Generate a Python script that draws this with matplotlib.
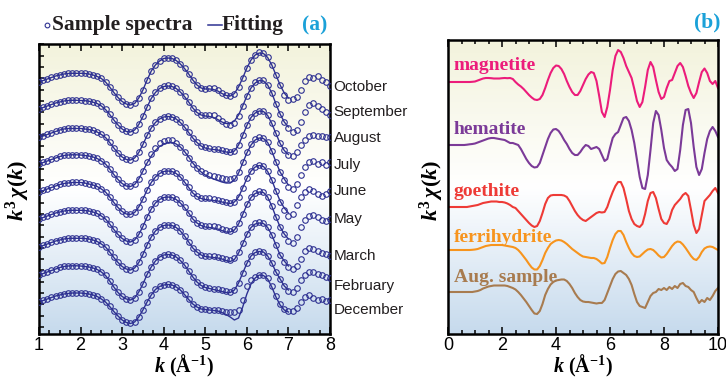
import numpy as np
import matplotlib
matplotlib.use("Agg")
import matplotlib.pyplot as plt
from matplotlib.colors import LinearSegmentedColormap
from matplotlib.ticker import MultipleLocator
from matplotlib.lines import Line2D

plt.rcParams['font.family'] = ['Liberation Sans', 'DejaVu Sans']
plt.rcParams['mathtext.fontset'] = 'custom'
plt.rcParams['mathtext.rm'] = 'Liberation Serif:bold'
plt.rcParams['mathtext.it'] = 'Liberation Serif:italic:bold'
plt.rcParams['mathtext.bf'] = 'Liberation Serif:bold'

# ---------------- panel (a) data: k = 1.0 ... 8.0, step 0.1 ----------------
k_a = np.round(np.arange(1.0, 8.05, 0.1), 1)
k_fit = k_a[:61]          # fits shown from 1.0 to 7.0

months = ["October", "September", "August", "July", "June",
          "May", "March", "February", "December"]

oct_data = [0, 1.5, 3, 4.5, 6, 7, 8, 8.5, 8.7, 8.7,
            8.7, 8.5, 8, 7, 5.5, 3.5, 0, -5, -10.5, -15.5,
            -19.5, -22, -23, -21.5, -16, -8, 2, 11, 17, 21,
            23.5, 24, 23.5, 21.5, 18, 13.5, 8, 2, -3, -6,
            -7, -6.5, -6.5, -8, -11, -13.5, -14.5, -12, -5, 4,
            14, 22, 27, 29.5, 29, 25, 17, 7, -3, -13,
            -18, -17, -15, -8, 1, 5, 4, 6, 2, 0, -4]
oct_fit = [0, 1.5, 3, 4.5, 6, 7, 8, 8.5, 8.7, 8.7,
           8.7, 8.5, 8, 7, 5.5, 3.5, 0, -5, -10.5, -15.5,
           -19.5, -22, -23, -21.5, -16, -8, 2, 11, 17, 21,
           23.5, 24, 23.5, 21.5, 18, 13.5, 8, 2, -3, -6,
           -7, -7, -7.5, -9, -11.5, -13.5, -14, -11.5, -5, 4,
           14, 22, 27, 29, 28.5, 24.5, 17, 7, -3, -11,
           -16]

sep_data = [0, 1.5, 3, 4.5, 6, 7, 8, 8.5, 8.7, 8.7,
            8.5, 8.3, 7.8, 6.8, 5.5, 3, -0.5, -5.5, -11, -16,
            -20, -22.5, -23, -21, -15.5, -7.5, 2, 10.5, 16.5, 20.5,
            23, 23.5, 23, 21, 17, 12.5, 7, 1, -3.5, -6,
            -6.5, -6, -6.5, -9, -12.5, -15, -16, -14, -7, 3,
            13, 21, 26.5, 29, 28.5, 24, 16, 5, -5, -13,
            -19, -23, -21, -13, -3, 4, 6, 3, 0, -3, -6]
sep_fit = [0, 1.5, 3, 4.5, 6, 7, 8, 8.5, 8.7, 8.7,
           8.5, 8.3, 7.8, 6.8, 5.5, 3, -0.5, -5.5, -11, -16,
           -20, -22.5, -23, -21, -15.5, -7.5, 2, 10.5, 16.5, 20.5,
           22.5, 23, 22.5, 20.5, 17, 12.5, 7, 1, -3.5, -6,
           -7, -7.5, -8.5, -10.5, -13, -14.5, -14.5, -12, -6, 3,
           13, 21, 26, 28.5, 28, 24, 16, 5, -5, -13,
           -18]

aug_data = [0, 1.5, 3, 4.5, 6, 7.5, 8.5, 9, 9, 9,
            9, 8.5, 8, 7, 5.5, 3, 0, -5, -10.5, -15.5,
            -19.5, -22, -22.5, -20.5, -15, -7, 2, 9.5, 15, 18.5,
            20.5, 21, 20.5, 18.5, 15, 10.5, 5, -0.5, -5, -8.5,
            -10, -11, -11.5, -12, -13, -14, -15, -14, -8, 2,
            12, 20, 24.5, 26.5, 26, 22, 14, 4, -6, -13,
            -18, -19, -15, -8, -3, 1, 2, 1, 1, 0, 0]
aug_fit = [0, 1.5, 3, 4.5, 6, 7.5, 8.5, 9, 9, 9,
           9, 8.5, 8, 7, 5.5, 3, 0, -5, -10.5, -15.5,
           -19.5, -22, -22.5, -20.5, -15, -7, 2, 9.5, 15, 18.5,
           20.5, 21, 20.5, 18.5, 15, 10.5, 5, -0.5, -5, -8.5,
           -10.5, -11.5, -12, -12.5, -13.5, -14.5, -15, -13.5, -7.5, 2,
           12, 20, 24.5, 26.5, 26, 22, 14, 4, -6, -13,
           -17]

jul_data = [0, 1.5, 3, 4.5, 6, 7.5, 8.5, 9, 9.2, 9.2,
            9, 8.5, 8, 7, 5.5, 3, 0, -5, -10.5, -15.5,
            -19.5, -22, -22.5, -20.5, -15, -7, 2, 10, 16, 20.5,
            23, 24, 23.5, 21, 17, 12, 6, 0, -4.5, -7.5,
            -9.5, -11, -12, -13, -14, -15, -15.5, -14, -8, 2,
            12, 20, 25, 27, 26, 22, 13, 2, -8, -16,
            -23, -25, -20, -11, -3, 2, 3, 0, 2, -1, 2]
jul_fit = [0, 1.5, 3, 4.5, 6, 7.5, 8.5, 9, 9.2, 9.2,
           9, 8.5, 8, 7, 5.5, 3, 0, -5, -10.5, -15.5,
           -19.5, -22, -22.5, -20.5, -15, -7, 1, 8, 13.5, 17.5,
           20, 21.5, 21.5, 20, 17, 12.5, 7, 1, -4, -8,
           -11, -13, -15, -16.5, -18, -19, -19, -16, -9, 1,
           11, 19, 24, 26, 25.5, 21.5, 13, 2, -8, -15,
           -21]

jun_data = [0, 1.5, 3, 4.5, 6, 7.5, 8.5, 9, 9.5, 9.5,
            9.5, 9, 8, 7, 5.5, 3, 0, -5, -10.5, -15.5,
            -19.5, -22, -22.5, -20.5, -15, -7, 2, 9.5, 15, 18.5,
            20.5, 21, 20.5, 18.5, 15, 10, 4.5, -1, -4.5, -6,
            -6.5, -6.5, -7.5, -8, -9, -10, -11, -10, -5, 4,
            13.5, 21, 25, 26.5, 26, 21, 12, 1, -10, -18,
            -24, -22, -13, -5, 0, 3, 1, -2, -4, -2, 1]
jun_fit = [0, 1.5, 3, 4.5, 6, 7.5, 8.5, 9, 9.5, 9.5,
           9.5, 9, 8, 7, 5.5, 3, 0, -5, -10.5, -15.5,
           -19.5, -22, -22.5, -20.5, -15, -7, 2, 9.5, 15, 18.5,
           20.5, 21, 20.5, 18.5, 15, 10, 4.5, -1, -4.5, -6.5,
           -7.5, -8, -8.5, -9, -10, -11, -11.5, -10, -5, 4,
           13.5, 21, 25, 26.5, 25.5, 20.5, 12, 1, -9, -16,
           -21]

may_data = [0, 1.5, 3, 4.5, 6, 7, 8, 8.5, 8.7, 8.7,
            8.7, 8.5, 8, 7, 5.5, 3, 0, -5, -10.5, -15.5,
            -19.5, -22, -23, -21, -15.5, -7.5, 2, 10, 16, 19.5,
            21.5, 22, 21.5, 19.5, 16, 11.5, 6, 0, -4, -6,
            -7, -7.5, -7, -8, -10, -11.5, -12, -10.5, -4.5, 5,
            14.5, 22, 26, 27.5, 27, 22, 13, 2, -8, -15,
            -22, -24, -18, -8, -1, 3, 4, 2, -1, -2, 0]
may_fit = [0, 1.5, 3, 4.5, 6, 7, 8, 8.5, 8.7, 8.7,
           8.7, 8.5, 8, 7, 5.5, 3, 0, -5, -10.5, -15.5,
           -19.5, -22, -23, -21, -15.5, -7.5, 2, 10, 16, 19.5,
           21.5, 22, 21.5, 19.5, 16, 11.5, 6, 0, -4, -6.5,
           -8, -8.5, -9, -10, -11.5, -13, -13, -11, -5, 4.5,
           14, 21.5, 25.5, 27, 26.5, 22, 13, 2, -8, -15,
           -20]

mar_data = [0, 1.5, 3, 4.5, 6, 7, 8, 8.5, 8.7, 8.7,
            8.7, 8.5, 8, 7, 5.5, 3, 0, -5, -10.5, -15.5,
            -19.5, -22, -23, -21, -15.5, -7.5, 2, 10, 16, 19.5,
            21.5, 22, 21.5, 19.5, 16, 11, 5, -1, -5, -8,
            -9, -9, -9.5, -10.5, -11.5, -12.5, -13, -11, -5, 4,
            13, 20, 23.5, 24.5, 24, 20, 12, 2, -8, -15,
            -20, -22, -19, -12, -4, -1, -2, -4, -6, -7, -9]
mar_fit = [0, 1.5, 3, 4.5, 6, 7, 8, 8.5, 8.7, 8.7,
           8.7, 8.5, 8, 7, 5.5, 3, 0, -5, -10.5, -15.5,
           -19.5, -22, -23, -21, -15.5, -7.5, 2, 10, 16, 19.5,
           21.5, 22, 21.5, 19.5, 16, 11, 5, -1, -5, -8,
           -9.5, -10, -10.5, -11, -12, -13.5, -14.5, -12.5, -6, 3,
           12.5, 19.5, 23, 24, 23.5, 19.5, 12, 2, -8, -14,
           -19]

feb_data = [0, 1.5, 3, 4.5, 6, 7.5, 8.5, 9, 9.2, 9.2,
            9, 8.5, 8, 7, 5.5, 3, -0.5, -6, -12, -17.5,
            -21.5, -24, -25, -23, -17, -9, 0.5, 8, 14, 18,
            20, 20.5, 20, 18, 14.5, 10, 4, -2, -7, -10.5,
            -12.5, -13.5, -14, -14.5, -15.5, -16.5, -17, -15, -8, 2,
            11.5, 19, 22.5, 23.5, 23, 19, 12, 3, -4, -11,
            -16, -17, -13, -5, 0, 3, 3, 1, 0, -2, -3]
feb_fit = [0, 1.5, 3, 4.5, 6, 7.5, 8.5, 9, 9.2, 9.2,
           9, 8.5, 8, 7, 5.5, 3, -0.5, -6, -12, -17.5,
           -21.5, -24, -25, -23, -17, -9, 0.5, 8, 14, 18,
           20, 20.5, 20, 18, 14.5, 10, 4, -2, -7, -10.5,
           -12.5, -13.5, -14.5, -15.5, -16.5, -17.5, -17.5, -15, -8, 2,
           11.5, 19, 22.5, 23.5, 23, 19, 12, 3, -4, -11,
           -15]

dec_data = [0, 1.5, 3, 4.5, 6, 7, 8, 8.5, 9, 9,
            9, 8.5, 8, 7, 5.5, 3, 0, -4.5, -9.5, -14,
            -18, -20.5, -21.5, -20, -15, -8, 0, 7, 12.5, 15.5,
            17, 17.5, 17, 15, 12, 7.5, 2.5, -2, -5, -7,
            -7.5, -8, -8, -8, -9, -10, -10, -10, -8, 2,
            16, 22, 25, 27, 27, 24, 16, 6, -2, -7,
            -9, -9, -6, 0, 5, 7, 4, 2, 3, 1, 2]
dec_fit = [0, 1.5, 3, 4.5, 6, 7, 8, 8.5, 9, 9,
           9, 8.5, 8, 7, 5.5, 3, 0, -4.5, -9.5, -14,
           -18, -20.5, -21.5, -20, -15, -8, 0, 7, 12.5, 15.5,
           17, 17.5, 17, 15, 12, 7.5, 2.5, -2, -5, -7,
           -7.5, -8, -8.5, -9, -10.5, -12.5, -15, -18, -16, -5,
           8, 18, 24, 27, 26.5, 23, 15, 5, -3, -8,
           -10]

sample_sets = [oct_data, sep_data, aug_data, jul_data, jun_data,
               may_data, mar_data, feb_data, dec_data]
fit_sets = [oct_fit, sep_fit, aug_fit, jul_fit, jun_fit,
            may_fit, mar_fit, feb_fit, dec_fit]
# vertical stacking offsets and label heights
offsets_a = [82, 109, 137.5, 164, 192, 219, 247, 275, 302]
label_y_a = [87, 112, 138, 165, 191, 219, 256, 286, 310]

# ---------------- panel (b) data: k = 0 ... 10, step 0.1 ----------------
k_b = np.round(np.arange(0.0, 10.05, 0.1), 1)
refs = ["magnetite", "hematite", "goethite", "ferrihydrite", "Aug. sample"]
ref_colors = ["#ec1c7b", "#7b3a98", "#ee3a36", "#f7941d", "#a87b4f"]

magnetite = [0, 0, 0, 0, 0, 0, 0, 0, 0, 0.2,
             0.5, 1.5, 2.5, 3.5, 4, 4, 3.8, 3.5, 3.5, 3.5,
             3.8, 4, 3.8, 4, 3, 0, -2.5, -4.5, -7, -10,
             -13, -15.5, -17.5, -18, -17, -13, -6, 2, 9, 14,
             16.5, 16, 13, 8, 1, -5, -10, -13, -13, -9,
             -3, 3, 7.5, 10, 9, 1, -14, -30, -35, -25,
             -8, 12, 26, 32, 30, 24, 16, 10, 4, -7,
             -19, -25, -20, -5, 12, 20, 15, 2, -10, -17,
             -15, -6, 1, 2, 9, 16, 19, 15, 6, -4,
             -11, -16, -11, 0, 10, 13.5, 9, 1, -2, 1,
             -6]
hematite = [0, 0, 0, 0, 0, 0, 0, 0.3, 0.7, 1,
            1.5, 2.5, 3.5, 4.5, 5.5, 6.5, 7, 7, 6.5, 6,
            5.5, 5, 3.5, 2, 2, 1, 0, -4, -9, -14,
            -18, -21, -22.5, -22, -18, -10, -2, 6, 12, 15.5,
            16, 14, 10, 5, 1, -4, -8, -10, -10, -7,
            -3, 0, -1, -4, -3, -2, -4, -10, -16, -14,
            -3, 7, 11, 13, 20, 27, 28, 24, 15, 2,
            -15, -32, -43, -44, -30, -5, 22, 34, 30, 15,
            -3, -15, -19, -22, -26, -24, -5, 20, 35, 36,
            22, -2, -22, -30, -24, -8, 6, 14, 18, 14,
            8]
goethite = [0, 0, 0, 0, 0, 0, 0, 0, 0.5, 1,
            1.5, 2, 3, 4, 4.5, 5, 5.5, 5.5, 5.5, 5,
            5, 4.5, 3.5, 2, 0, -1, -4, -7, -10, -13,
            -16, -18.5, -20, -19, -14, -6, 3, 9, 11.5, 12,
            12, 12, 12, 11.5, 10, 6, 1, -4, -8, -11,
            -13, -14, -12, -10, -8, -6, -5, -5.5, -5, 0,
            8, 15, 21, 25, 25, 19, 8, -4, -12, -17,
            -19, -20, -17, -7, 6, 14, 15, 9, -2, -12,
            -16, -17, -12, -3, 2, 5, 8, 12, 14, 11,
            -3, -18, -26, -22, -8, 6, 9, 12, 16, 19,
            14]
ferrihydrite = [0, 0, 0, 0, 0, 0, 0, 0, 0, 0.2,
                0.5, 1, 2, 3, 4, 4.5, 5, 5, 5, 5,
                5, 4.5, 4, 3.5, 3, 2, 0, -3, -6.5, -10,
                -14, -17.5, -19.5, -19.5, -16, -10, -3, 2, 6, 8,
                9.5, 10, 9.5, 8, 6, 3.5, 1, -1, -3, -5,
                -6.5, -7, -7.5, -8, -8, -9, -11, -13.5, -13, -7,
                2, 10, 16, 19, 19, 15, 8, 2, -3, -6,
                -7, -6.5, -4, -1.5, 0.5, 1, 0, -2.5, -5.5, -7.5,
                -7, -4, 0, 4, 7, 8.5, 8, 5.5, 2, -2,
                -6, -9, -10, -7, -2, 1.5, 3, 3.5, 3, 1.5,
                0]
aug_sample = [0, 0, 0, 0, 0, 0, 0, 0, 0, 0,
              0.5, 1, 2, 3.5, 4.5, 5.5, 6, 6.5, 6.5, 6.5,
              6.5, 6.5, 6, 5, 4, 2.5, 0, -3, -6.5, -10,
              -14, -18, -21.5, -22, -19, -12, -3, 3, 7.5, 10,
              11.5, 12, 12.5, 12.5, 11, 8, 4, -1, -5, -8,
              -9.5, -10, -10, -10.5, -11, -11.5, -11, -11, -8, -1,
              6, 13, 18, 20.5, 21, 19, 17, 13, 7, -2,
              -10, -14, -15, -16, -10, -4, -1, 0, 3, 2,
              4, 2, 5, 3, 6, 4, 8, 9, 6, 5,
              2, 0, -6, -11, -8, -10, -6, -8, -4, 1,
              4]
ref_sets = [magnetite, hematite, goethite, ferrihydrite, aug_sample]
offsets_b = [82, 145, 207, 250, 292]
label_y_b = [66, 130, 192, 237, 277]

# ---------------- figure ----------------
W, H = 726, 380
fig = plt.figure(figsize=(W / 100, H / 100), dpi=100)

bg = LinearSegmentedColormap.from_list(
    "bg", [(0.0, "#c6daed"), (0.5, "#ffffff"), (1.0, "#f3f3dc")])
grad = np.linspace(0, 1, 256).reshape(-1, 1)

navy = "#2e3192"
serif = "Liberation Serif"


def px_axes(x0, y0, x1, y1):
    return fig.add_axes([x0 / W, 1 - y1 / H, (x1 - x0) / W, (y1 - y0) / H])


def style(ax, xlim, ylim):
    ax.imshow(grad, extent=[xlim[0], xlim[1], ylim[0], ylim[1]],
              aspect="auto", cmap=bg, origin="lower", zorder=0)
    ax.set_xlim(*xlim)
    ax.set_ylim(*ylim)
    for s in ax.spines.values():
        s.set_linewidth(1.8)
    ax.tick_params(which="both", direction="in", top=True, bottom=True,
                   right=False, width=1.1, labelsize=13, pad=2)
    ax.tick_params(which="major", length=5)
    ax.tick_params(which="minor", length=3)


# panel (a)
ax1 = px_axes(39, 44, 330, 334)
style(ax1, (1, 8), (-334, -44))
ax1.xaxis.set_major_locator(MultipleLocator(1))
ax1.xaxis.set_minor_locator(MultipleLocator(0.25))
ax1.set_yticks(np.arange(-327, -44, 11.3))
ax1.tick_params(axis="y", which="major", length=3.5, labelleft=False)

for data, fit, off, name, ly in zip(sample_sets, fit_sets, offsets_a,
                                    months, label_y_a):
    ax1.plot(k_fit, np.array(fit) - off, color=navy, lw=1.0, zorder=2)
    ax1.plot(k_a, np.array(data) - off, ls="none", marker="o", ms=4.0,
             mfc="none", mec=navy, mew=0.8, zorder=3)
    ax1.text(1.012, -ly, name, transform=ax1.get_yaxis_transform(),
             ha="left", va="center", fontsize=11, color="#231f20")

# panel (b)
ax2 = px_axes(448, 40, 718, 334)
style(ax2, (0, 10), (-334, -40))
ax2.xaxis.set_major_locator(MultipleLocator(2))
ax2.xaxis.set_minor_locator(MultipleLocator(0.5))
ax2.set_yticks([])

for vals, off, name, col, ly in zip(ref_sets, offsets_b, refs,
                                    ref_colors, label_y_b):
    ax2.plot(k_b, np.array(vals) - off, color=col, lw=1.5, zorder=2)
    ax2.text(0.022, -ly, name, transform=ax2.get_yaxis_transform(),
             ha="left", va="center", fontsize=14, color=col,
             family=serif, weight="bold", zorder=4)

# axis titles
for xc in (184, 583):
    fig.text(xc / W, 1 - 379 / H, r"$k\ (\mathrm{\AA}^{-1})$",
             ha="center", va="bottom", fontsize=14.5)
for xc in (18, 432):
    fig.text(xc / W, 1 - 190 / H, r"$k^3\,\chi(k)$", rotation=90,
             ha="center", va="center", fontsize=16)

# legend line on top of panel (a)
leg_y = 1 - 25 / H
fig.add_artist(Line2D([47 / W], [leg_y], marker="o", ms=3.4, mfc="none",
                      mec=navy, mew=0.8, transform=fig.transFigure))
fig.text(52 / W, leg_y, "Sample spectra", ha="left", va="center",
         fontsize=15.5, family=serif, weight="bold", color="#231f20")
fig.add_artist(Line2D([208 / W, 222 / W], [leg_y, leg_y], color=navy,
                      lw=1.1, transform=fig.transFigure))
fig.text(222 / W, leg_y, "Fitting", ha="left", va="center",
         fontsize=15.5, family=serif, weight="bold", color="#231f20")
fig.text(302 / W, leg_y, "(a)", ha="left", va="center",
         fontsize=15.5, family=serif, weight="bold", color="#1ba1d8")
fig.text(694 / W, 1 - 22 / H, "(b)", ha="left", va="center",
         fontsize=15.5, family=serif, weight="bold", color="#1ba1d8")

fig.savefig("out.png", dpi=100)
